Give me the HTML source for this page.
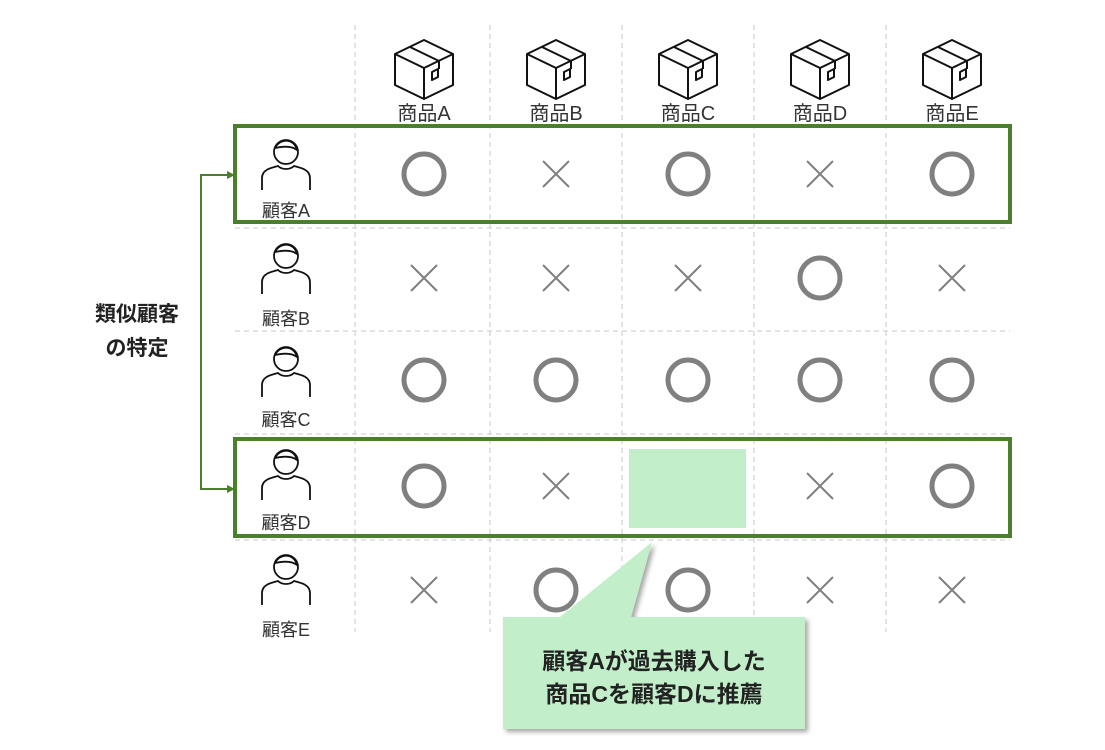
<!DOCTYPE html>
<html><head><meta charset="utf-8"><style>
body{margin:0;background:#fff;}
svg{display:block}
text{font-family:"Liberation Sans","Noto Sans CJK JP",sans-serif;}
</style></head><body>
<svg width="1105" height="750" viewBox="0 0 1105 750" xmlns="http://www.w3.org/2000/svg">
<defs>
<g id="box" fill="none" stroke="#111" stroke-width="2" stroke-linejoin="round">
<path d="M0,-27 L29,-13 L29,18 L0,32 L-29,18 L-29,-13 Z"/>
<path d="M-29,-13 L0,1 L29,-13 M0,1 L0,32"/>
<path d="M-14,-20 L15,-6 L15,2"/>
<path d="M8,5 L14,2 L14,10 L8,13 Z"/>
</g>
<g id="person" fill="none" stroke="#111" stroke-width="1.8">
<circle cx="0" cy="-18" r="12"/>
<path d="M-11,-22 C-6,-32 8,-32 11,-20 C6,-24 -2,-24 -11,-22"/>
<path d="M-24,20 L-24,8 C-24,0 -16,-2 -8,-4 C-4,0 4,0 8,-4 C16,-2 24,0 24,8 L24,20"/>
</g>
<g id="o"><circle r="20" fill="none" stroke="#808080" stroke-width="5"/></g>
<g id="x" stroke="#808080" stroke-width="2"><path d="M-13,-13 L13,13 M13,-13 L-13,13"/></g>
<filter id="sh" x="-10%" y="-10%" width="130%" height="130%"><feDropShadow dx="3" dy="3" stdDeviation="2.5" flood-color="#000" flood-opacity="0.35"/></filter>
</defs>
<g stroke="#c8c8c8" stroke-width="1" stroke-dasharray="5,4">
<line x1="355" y1="25" x2="355" y2="632"/><line x1="490" y1="25" x2="490" y2="632"/>
<line x1="622" y1="25" x2="622" y2="632"/><line x1="754" y1="25" x2="754" y2="632"/>
<line x1="886" y1="25" x2="886" y2="632"/>
<line x1="235" y1="228" x2="1010" y2="228"/><line x1="235" y1="331" x2="1010" y2="331"/>
<line x1="235" y1="434" x2="1010" y2="434"/><line x1="235" y1="540" x2="1010" y2="540"/>
</g>
<g>
<use href="#box" x="424" y="67"/><use href="#box" x="556" y="67"/><use href="#box" x="688" y="67"/><use href="#box" x="820" y="67"/><use href="#box" x="952" y="67"/>
</g>
<g font-size="20" fill="#333" text-anchor="middle">
<text x="424" y="120">商品A</text><text x="556" y="120">商品B</text><text x="688" y="120">商品C</text><text x="820" y="120">商品D</text><text x="952" y="120">商品E</text>
</g>
<g>
<use href="#person" x="286" y="170"/><use href="#person" x="286" y="274"/><use href="#person" x="286" y="377"/><use href="#person" x="286" y="480"/><use href="#person" x="286" y="585"/>
</g>
<g font-size="18" fill="#333" text-anchor="middle">
<text x="286" y="217">顧客A</text><text x="286" y="325">顧客B</text><text x="286" y="426">顧客C</text><text x="286" y="529">顧客D</text><text x="286" y="636">顧客E</text>
</g>
<rect x="629" y="449" width="117" height="79" fill="#c2efc9"/>
<use href="#o" x="424" y="174"/><use href="#x" x="556" y="174"/><use href="#o" x="688" y="174"/><use href="#x" x="820" y="174"/><use href="#o" x="952" y="174"/>
<use href="#x" x="424" y="278"/><use href="#x" x="556" y="278"/><use href="#x" x="688" y="278"/><use href="#o" x="820" y="278"/><use href="#x" x="952" y="278"/>
<use href="#o" x="424" y="380"/><use href="#o" x="556" y="380"/><use href="#o" x="688" y="380"/><use href="#o" x="820" y="380"/><use href="#o" x="952" y="380"/>
<use href="#o" x="424" y="486"/><use href="#x" x="556" y="486"/><use href="#x" x="820" y="486"/><use href="#o" x="952" y="486"/>
<use href="#x" x="424" y="590"/><use href="#o" x="556" y="590"/><use href="#o" x="688" y="590"/><use href="#x" x="820" y="590"/><use href="#x" x="952" y="590"/>
<rect x="235" y="126" width="775" height="96" fill="none" stroke="#4a7f2c" stroke-width="4"/>
<rect x="235" y="439" width="775" height="97" fill="none" stroke="#4a7f2c" stroke-width="4"/>
<g stroke="#4a7f2c" stroke-width="2" fill="none">
<path d="M228,175 L201,175 L201,489 L228,489"/>
</g>
<path d="M235,175 L227,171 L227,179 Z M235,489 L227,485 L227,493 Z" fill="#4a7f2c"/>
<g font-size="21" font-weight="bold" fill="#222" text-anchor="middle">
<text x="137" y="321">類似顧客</text><text x="137" y="355">の特定</text>
</g>
<g filter="url(#sh)">
<path d="M503,617 L560,617 L652,542 L631,617 L805,617 L805,729 L503,729 Z" fill="#c2efc9"/>
</g>
<g font-size="23" font-weight="bold" fill="#222" text-anchor="middle">
<text x="654" y="669">顧客Aが過去購入した</text><text x="654" y="702">商品Cを顧客Dに推薦</text>
</g>
</svg>
</body></html>
